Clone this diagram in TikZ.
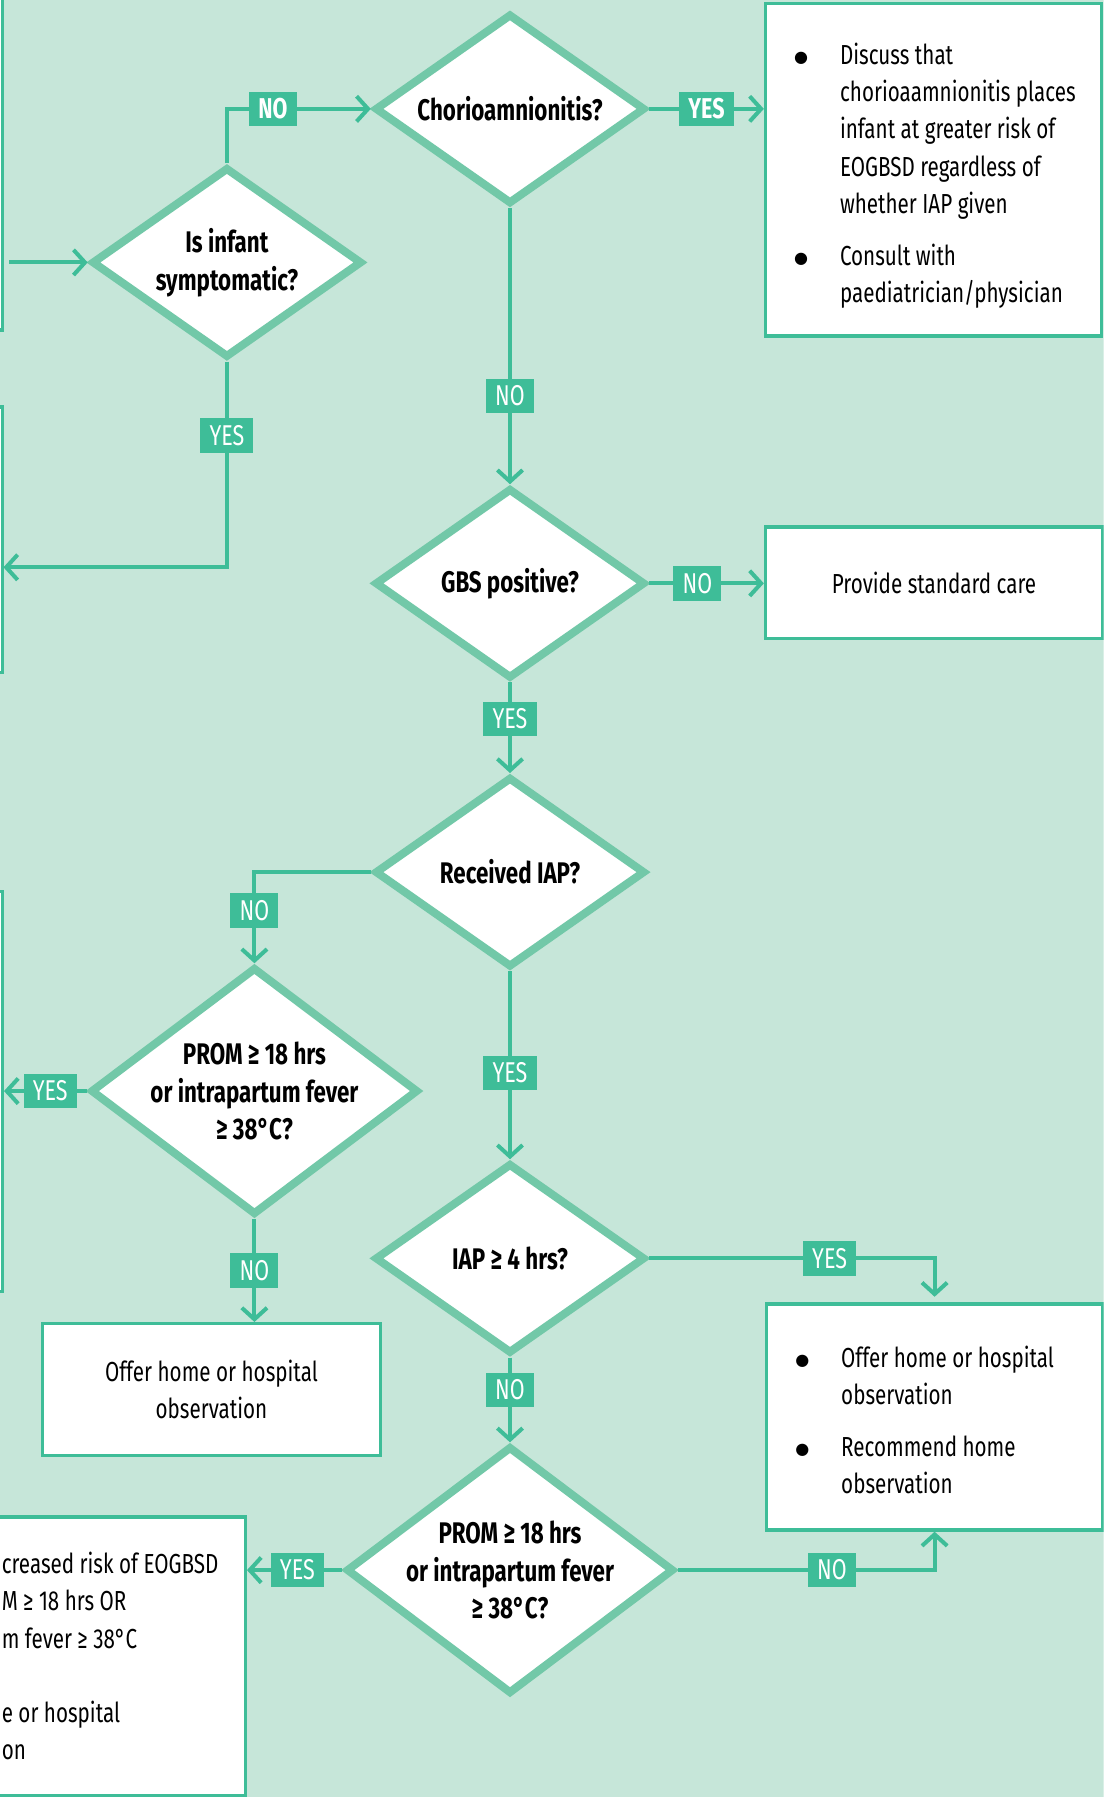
\documentclass[tikz,border=0pt]{standalone}
\usepackage{fontspec}
\setmainfont{Fira Sans}[FakeStretch=0.75]
\newfontfamily\symfont{DejaVu Sans}
\newcommand{\bigdot}{\raisebox{0.8pt}{\symfont\fontsize{7}{7}\selectfont ●}}
\usepackage{tikz}
\usetikzlibrary{shapes.geometric, arrows.meta}
\definecolor{bgMint}{RGB}{198,230,217}
\definecolor{flowGreen}{RGB}{62,189,152}
\definecolor{rimGreen}{RGB}{114,200,168}
\tikzset{
    >={Straight Barb[length=5pt,width=11pt]}, % open chevron heads
    styleFlow/.style={->, draw=flowGreen, line width=1.75pt}, % the connectors
    styleDecision/.style={diamond, draw=rimGreen, fill=white, line width=3.5pt, shape aspect=1.4, inner sep=-4pt, align=center, font=\bfseries\fontsize{13}{16.5}\selectfont}, % question nodes
    styleBox/.style={rectangle, draw=flowGreen, fill=white, line width=1.5pt, font=\fontsize{12}{16.25}\selectfont}, % answer boxes
    styleList/.style={styleBox, text width=121.5pt, inner xsep=12.5pt, align=flush left}, % answer boxes with bullets
    styleTag/.style={fill=flowGreen, text=white, inner xsep=4pt, inner ysep=0pt, minimum height=15pt, font=\fontsize{12.5}{14}\selectfont}, % YES / NO tags
}

\begin{document}
\begin{tikzpicture}[
        x=0.5pt, y=-0.5pt,
        styleQ/.style={minimum width=118pt, minimum height=83pt},
        styleQWide/.style={minimum width=143pt, minimum height=108pt},
        styleTagBold/.style={styleTag, font=\bfseries\fontsize{12.5}{14}\selectfont},
    ]
    \useasboundingbox (0,0) rectangle (963,1568);
    \clip (0,0) rectangle (963,1568);
    \fill[bgMint] (0,0) rectangle (963,1568);

    % boxes cut off at the left edge
    \node[styleBox, minimum width=146pt, minimum height=154pt] (boxA) at (-144,134) {};
    \node[styleBox, minimum width=146pt, minimum height=116pt] (boxB) at (-144,471) {};
    \node[styleBox, minimum width=146pt, minimum height=174.5pt] (boxC) at (-144,952.5) {};
    \coordinate (outA) at (8,229);
    \coordinate (inB) at (3,495);

    % questions
    \node[styleDecision, styleQ] (symp) at (198,229) {Is infant\\symptomatic?};
    \node[styleDecision, styleQ] (chorio) at (445,95) {Chorioamnionitis?};
    \node[styleDecision, styleQ] (gbs) at (445,509) {GBS positive?};
    \node[styleDecision, styleQ] (iap) at (445,761) {Received IAP?};
    \node[styleDecision, styleQWide] (prom1) at (222,952) {PROM ≥ 18 hrs\\or intrapartum fever\\≥ 38°C?};
    \node[styleDecision, styleQ] (iap4) at (445,1098) {IAP ≥ 4 hrs?};
    \node[styleDecision, styleQWide] (prom2) at (445,1370) {PROM ≥ 18 hrs\\or intrapartum fever\\≥ 38°C?};

    % answers
    \node[styleList, minimum height=145pt] (boxChorio) at (814.5,148) {%
        \begin{tabular}{@{}p{20pt}@{}l@{}}
            \bigdot\rule{0pt}{17pt} & Discuss that\\
            & chorioaamnionitis places\\
            & infant at greater risk of\\
            & EOGBSD regardless of\\
            & whether IAP given\\[6.5pt]
            \bigdot & Consult with\\
            & paediatrician/physician
        \end{tabular}};
    \node[styleBox, minimum width=147pt, minimum height=48.5pt] (boxStd) at (815,508.5) {Provide standard care};
    \node[styleBox, minimum width=147.5pt, minimum height=57.5pt, align=center] (boxObs1) at (184.5,1212.5) {Offer home or hospital\\observation};
    \node[styleList, minimum height=98.5pt] (boxObs2) at (815.5,1236.5) {%
        \begin{tabular}{@{}p{20pt}@{}l@{}}
            \bigdot\rule{0pt}{16.5pt} & Offer home or hospital\\
            & observation\\[6.5pt]
            \bigdot & Recommend home\\
            & observation
        \end{tabular}};
    \node[styleBox, minimum width=118pt, minimum height=121.5pt, align=left] (boxRisk) at (96,1445) {creased risk of EOGBSD\\M ≥ 18 hrs OR\\m fever ≥ 38°C\\[16.25pt]e or hospital\\on};

    % connectors
    \draw[styleFlow] (outA) -- (symp.west);
    \draw[styleFlow] (symp.north) |- node[styleTagBold, pos=0.66]{NO} (chorio.west);
    \draw[styleFlow] (chorio.east) -- node[styleTagBold]{YES} (chorio.east -| boxChorio.west);
    \draw[styleFlow] (symp.south) |- node[styleTag, pos=0.18]{YES} (inB);
    \draw[styleFlow] (chorio.south) -- node[styleTag, pos=0.68]{NO} (gbs.north);
    \draw[styleFlow] (gbs.east) -- node[styleTag, pos=0.42]{NO} (gbs.east -| boxStd.west);
    \draw[styleFlow] (gbs.south) -- node[styleTag, pos=0.4]{YES} (iap.north);
    \draw[styleFlow] (iap.west) -| node[styleTag, pos=0.71]{NO} (prom1.north);
    \draw[styleFlow] (prom1.west) -- node[styleTag, pos=0.44]{YES} (prom1.west -| boxC.east);
    \draw[styleFlow] (prom1.south) -- node[styleTag]{NO} (prom1.south |- boxObs1.north);
    \draw[styleFlow] (iap.south) -- node[styleTag, pos=0.54]{YES} (iap4.north);
    \draw[styleFlow, shorten >=2.5pt] (iap4.east) -| node[styleTag, pos=0.316]{YES} (boxObs2.north);
    \draw[styleFlow] (iap4.south) -- node[styleTag, pos=0.38]{NO} (prom2.north);
    \draw[styleFlow] (prom2.east) -| node[styleTag, pos=0.3]{NO} (boxObs2.south);
    \draw[styleFlow] (prom2.west) -- node[styleTag, pos=0.47]{YES} (prom2.west -| boxRisk.east);
\end{tikzpicture}
\end{document}
